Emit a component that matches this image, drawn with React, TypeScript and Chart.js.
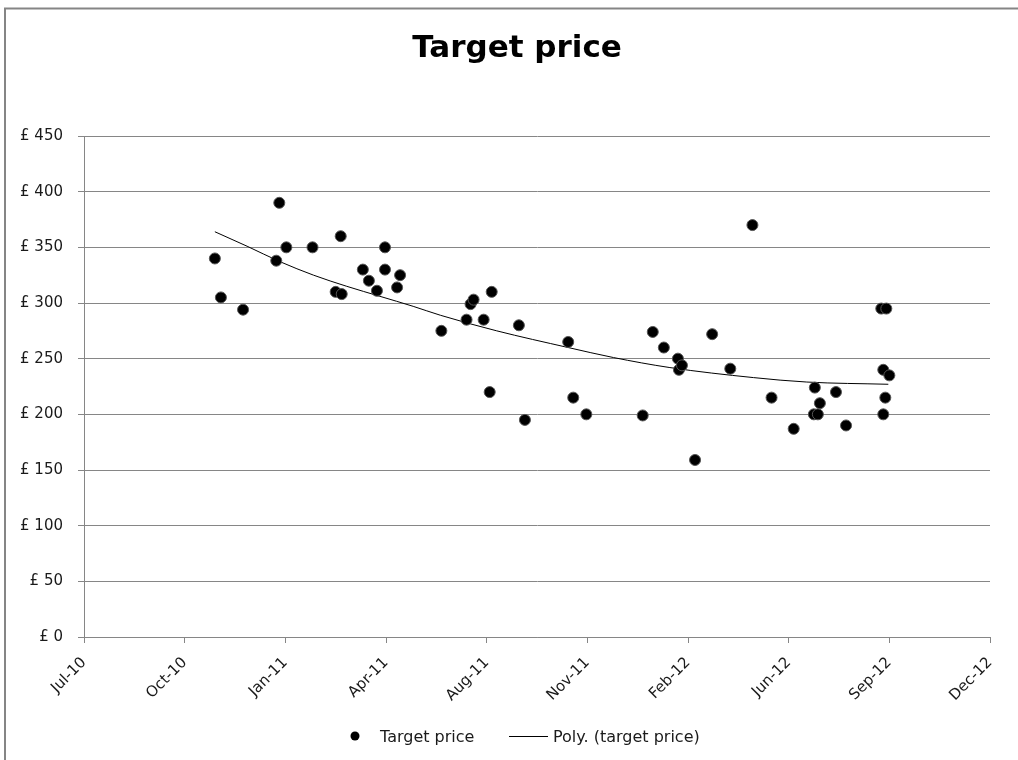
import React, { useEffect, useRef } from "react";
import { Chart, registerables } from "chart.js";

Chart.register(...registerables);

// ---- data ----
const AXIS_START = "2010-07-03";

const xTickLabels = ["Jul-10", "Oct-10", "Jan-11", "Apr-11", "Aug-11", "Nov-11", "Feb-12", "Jun-12", "Sep-12", "Dec-12"];
const yTickValues = [0, 50, 100, 150, 200, 250, 300, 350, 400, 450];

const targetDates = [
  "2010-11-10", "2010-11-16", "2010-12-08", "2011-01-10", "2011-01-13", "2011-01-20", "2011-02-15",
  "2011-03-10", "2011-03-15", "2011-03-16", "2011-04-06", "2011-04-12", "2011-04-20", "2011-04-28",
  "2011-04-28", "2011-05-10", "2011-05-13", "2011-06-23", "2011-07-18", "2011-07-22", "2011-07-25",
  "2011-08-04", "2011-08-10", "2011-08-12", "2011-09-08", "2011-09-14", "2011-10-27", "2011-11-01",
  "2011-11-14", "2012-01-09", "2012-01-19", "2012-01-30", "2012-02-13", "2012-02-14", "2012-02-17",
  "2012-03-01", "2012-03-18", "2012-04-05", "2012-04-27", "2012-05-16", "2012-06-07", "2012-06-27",
  "2012-06-28", "2012-07-01", "2012-07-03", "2012-07-19", "2012-07-29", "2012-09-02", "2012-09-04",
  "2012-09-04", "2012-09-06", "2012-09-07", "2012-09-10",
];
const targetPrices = [
  340, 305, 294, 338, 390, 350, 350,
  310, 360, 308, 330, 320, 311, 350,
  330, 314, 325, 275, 285, 299, 303,
  285, 220, 310, 280, 195, 265, 215,
  200, 199, 274, 260, 250, 240, 244,
  159, 272, 241, 370, 215, 187, 200,
  224, 200, 210, 220, 190, 295, 200,
  240, 215, 295, 235,
];

// polynomial trendline
const trendDates = [
  "2010-11-10", "2010-12-12", "2011-01-14", "2011-02-16", "2011-03-21", "2011-04-23", "2011-05-26",
  "2011-06-22", "2011-08-17", "2011-10-27", "2011-12-11", "2012-02-05", "2012-04-28", "2012-06-20",
  "2012-09-09",
];
const trendValues = [364, 351, 337, 325, 315, 306, 297, 289, 275, 260, 251, 242, 233, 229, 227];

const DAY_MS = 86400000;
const toDays = (d: string) => (Date.parse(d) - Date.parse(AXIS_START)) / DAY_MS;

const GRID = "#868686";
const FONT = '"DejaVu Sans", sans-serif';

const framePlugin = {
  id: "frame",
  beforeDraw(chart: any) {
    const ctx = chart.ctx;
    ctx.save();
    ctx.fillStyle = "#ffffff";
    ctx.fillRect(0, 0, chart.width, chart.height);
    ctx.strokeStyle = "#858585";
    ctx.lineWidth = 2;
    ctx.strokeRect(5, 8.5, chart.width + 40, chart.height + 40);
    ctx.restore();
  },
  afterDraw(chart: any) {
    const ctx = chart.ctx;
    ctx.save();
    // title
    ctx.fillStyle = "#000";
    ctx.font = `bold 31px ${FONT}`;
    ctx.textAlign = "center";
    ctx.textBaseline = "alphabetic";
    ctx.fillText("Target price", 517, 57);
    // legend
    ctx.font = `16px ${FONT}`;
    ctx.textAlign = "left";
    ctx.beginPath();
    ctx.arc(355, 736, 4.5, 0, Math.PI * 2);
    ctx.fillStyle = "#000";
    ctx.fill();
    ctx.fillStyle = "#1a1a1a";
    ctx.fillText("Target price", 380, 742);
    ctx.beginPath();
    ctx.moveTo(509, 736.5);
    ctx.lineTo(548, 736.5);
    ctx.strokeStyle = "#000";
    ctx.lineWidth = 1;
    ctx.stroke();
    ctx.fillText("Poly. (target price)", 553, 742);
    ctx.restore();
  },
};

export default function App() {
  const ref = useRef<HTMLCanvasElement | null>(null);

  useEffect(() => {
    document.body.style.margin = "0";
    const canvas = ref.current;
    if (!canvas) return;
    const chart = new Chart(canvas, {
      type: "scatter",
      data: {
        datasets: [
          {
            label: "Poly. (target price)",
            type: "line",
            data: trendDates.map((d, i) => ({ x: toDays(d), y: trendValues[i] })),
            borderColor: "#000",
            borderWidth: 1,
            pointRadius: 0,
            fill: false,
            cubicInterpolationMode: "monotone",
            order: 2,
          } as any,
          {
            label: "Target price",
            data: targetDates.map((d, i) => ({ x: toDays(d), y: targetPrices[i] })),
            backgroundColor: "#000",
            borderColor: "#555555",
            borderWidth: 1,
            pointRadius: 5.5,
            order: 1,
          },
        ],
      },
      options: {
        responsive: false,
        animation: false,
        layout: { padding: { top: 136, left: 0, right: 28, bottom: 23 } },
        plugins: {
          legend: { display: false },
          title: { display: false },
          tooltip: { enabled: false },
        },
        scales: {
          x: {
            type: "linear",
            min: 0,
            max: 900,
            afterFit: (s: any) => { s.height = 100; },
            afterBuildTicks: (s: any) => {
              s.ticks = xTickLabels.map((_, i) => ({ value: i * 100 }));
            },
            ticks: {
              autoSkip: false,
              minRotation: 45,
              maxRotation: 45,
              padding: 11,
              color: "#1a1a1a",
              font: { family: FONT, size: 15 },
              callback: (v: any) => xTickLabels[Math.round(Number(v) / 100)] ?? "",
            },
            grid: { drawOnChartArea: false, drawTicks: true, tickLength: 6, color: GRID },
            border: { display: true, color: GRID },
          },
          y: {
            min: 0,
            max: 450,
            afterFit: (s: any) => { s.width = 84; },
            afterBuildTicks: (s: any) => {
              s.ticks = yTickValues.map((v) => ({ value: v }));
            },
            ticks: {
              padding: 15,
              color: "#1a1a1a",
              font: { family: FONT, size: 15 },
              callback: (v: any) => "£ " + v,
            },
            grid: { color: GRID, drawTicks: true, tickLength: 6 },
            border: { display: true, color: GRID },
          },
        },
      },
      plugins: [framePlugin],
    });
    return () => chart.destroy();
  }, []);

  return (
    <div style={{ position: "absolute", left: 0, top: 0, width: 1018, height: 760 }}>
      <canvas ref={ref} width={1018} height={760} style={{ display: "block" }} />
    </div>
  );
}
